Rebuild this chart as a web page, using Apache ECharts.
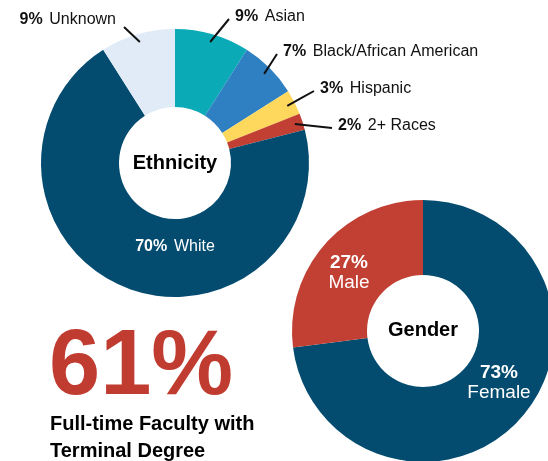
<!DOCTYPE html>
<html>
<head>
<meta charset="utf-8">
<script src="https://cdn.jsdelivr.net/npm/echarts@6/dist/echarts.min.js"></script>
<style>
  html, body { margin: 0; padding: 0; background: #fff; }
  #chart { width: 548px; height: 461px; }
</style>
</head>
<body>
<div id="chart"></div>
<script>
// ethnicity ring, clockwise from 12 o'clock
const ethnicityNames = ['Asian', 'Black/African American', 'Hispanic', '2+ Races', 'White', 'Unknown']
const ethnicityValues = [9, 7, 3, 2, 70, 9]

// gender ring, clockwise from 12 o'clock
const genderNames = ['Female', 'Male']
const genderValues = [73, 27]

// headline figure
const degreeLabel = 'Full-time Faculty with\nTerminal Degree'
const degreeValue = 61

const ethnicityColors = ['#0aabb7', '#2e80c3', '#fdd85d', '#c23f33', '#034b6f', '#e0ebf7']
const genderColors = ['#034b6f', '#c13f33']
const font = "'Liberation Sans', Arial, sans-serif"

const ethCenter = [175, 163]
const ethRadius = [56, 134]
const genCenter = [423, 331]

// label anchors (x, middle y)
const ethnicityLabelSpots = [[235, 17], [283, 52], [320, 89], [338, 126], [175, 247], [116, 20]]
const genderLabelSpots = [[499, 383], [349, 273]]

const chart = echarts.init(document.getElementById('chart'), null, { renderer: 'canvas' })

// point at the middle of an ethnicity slice, r px from the centre
function slicePoint(index, r) {
  const total = ethnicityValues.reduce((s, v) => s + v, 0)
  let before = 0
  for (let i = 0; i < index; i++) before += ethnicityValues[i]
  const frac = (before + ethnicityValues[index] / 2) / total
  const ang = Math.PI / 2 - frac * Math.PI * 2
  return [ethCenter[0] + r * Math.cos(ang), ethCenter[1] - r * Math.sin(ang)]
}

chart.setOption({
  animation: false,
  backgroundColor: '#fff',
  series: [
    {
      // the coloured ring
      type: 'pie',
      center: ethCenter,
      radius: ethRadius,
      startAngle: 90,
      clockwise: true,
      emphasis: { disabled: true },
      label: { show: false },
      labelLine: { show: false },
      data: ethnicityNames.map((name, i) => ({
        name: name,
        value: ethnicityValues[i],
        itemStyle: { color: ethnicityColors[i] }
      }))
    },
    {
      // same ring, see-through, only carries labels + leaders so they sit on top
      type: 'pie',
      z: 3,
      silent: true,
      center: ethCenter,
      radius: ethRadius,
      startAngle: 90,
      clockwise: true,
      avoidLabelOverlap: false,
      emphasis: { disabled: true },
      itemStyle: { color: 'rgba(0,0,0,0)' },
      label: {
        show: true,
        position: 'outside',
        color: '#111',
        formatter: p => '{pct|' + p.value + '%}  {nm|' + p.name + '}',
        rich: {
          pct: { fontFamily: font, fontSize: 16, fontWeight: 'bold' },
          nm: { fontFamily: font, fontSize: 16 }
        }
      },
      labelLine: {
        show: true,
        length: 12,
        length2: 0,
        lineStyle: { color: '#111', width: 2 }
      },
      labelLayout(p) {
        const spot = ethnicityLabelSpots[p.dataIndex]
        const inside = ethnicityNames[p.dataIndex] === 'White'
        const align = inside ? 'center' : (spot[0] < ethCenter[0] ? 'right' : 'left')
        const out = { x: spot[0], y: spot[1], align: align, verticalAlign: 'middle' }
        if (!inside) {
          // leader starts a little inside the ring
          const start = slicePoint(p.dataIndex, ethRadius[1] - 8)
          const end = align === 'left' ? [spot[0] - 6, spot[1] + 2] : [spot[0] + 8, spot[1] + 7]
          out.labelLinePoints = [start, [(start[0] + end[0]) / 2, (start[1] + end[1]) / 2], end]
        }
        return out
      },
      data: ethnicityNames.map((name, i) => {
        const item = { name: name, value: ethnicityValues[i] }
        if (name === 'White') {
          item.label = { position: 'inside', color: '#fff' }
          item.labelLine = { show: false }
        }
        return item
      })
    },
    {
      type: 'pie',
      center: genCenter,
      radius: [56, 131],
      startAngle: 90,
      clockwise: true,
      avoidLabelOverlap: false,
      emphasis: { disabled: true },
      label: {
        show: true,
        position: 'inside',
        color: '#fff',
        formatter: p => '{pct|' + p.value + '%}\n{nm|' + p.name + '}',
        rich: {
          pct: { fontFamily: font, fontSize: 19, fontWeight: 'bold', lineHeight: 20, align: 'center' },
          nm: { fontFamily: font, fontSize: 19, lineHeight: 20, align: 'center' }
        }
      },
      labelLine: { show: false },
      labelLayout(p) {
        const spot = genderLabelSpots[p.dataIndex]
        return { x: spot[0], y: spot[1], align: 'center', verticalAlign: 'middle' }
      },
      data: genderNames.map((name, i) => ({
        name: name,
        value: genderValues[i],
        itemStyle: { color: genderColors[i] }
      }))
    }
  ],
  graphic: [
    {
      type: 'text',
      x: ethCenter[0],
      y: ethCenter[1],
      style: {
        text: 'Ethnicity',
        fill: '#000',
        font: 'bold 20px ' + font,
        textAlign: 'center',
        textVerticalAlign: 'middle'
      }
    },
    {
      type: 'text',
      x: genCenter[0],
      y: genCenter[1] - 1,
      style: {
        text: 'Gender',
        fill: '#000',
        font: 'bold 20px ' + font,
        textAlign: 'center',
        textVerticalAlign: 'middle'
      }
    },
    {
      type: 'text',
      x: 49,
      y: 369,
      style: {
        text: degreeValue + '%',
        fill: '#c13c30',
        font: 'bold 92px ' + font,
        textAlign: 'left',
        textVerticalAlign: 'middle'
      }
    },
    {
      type: 'text',
      x: 50,
      y: 438,
      style: {
        text: degreeLabel,
        fill: '#000',
        font: 'bold 20px ' + font,
        lineHeight: 27,
        textAlign: 'left',
        textVerticalAlign: 'middle'
      }
    }
  ]
})
</script>
</body>
</html>
